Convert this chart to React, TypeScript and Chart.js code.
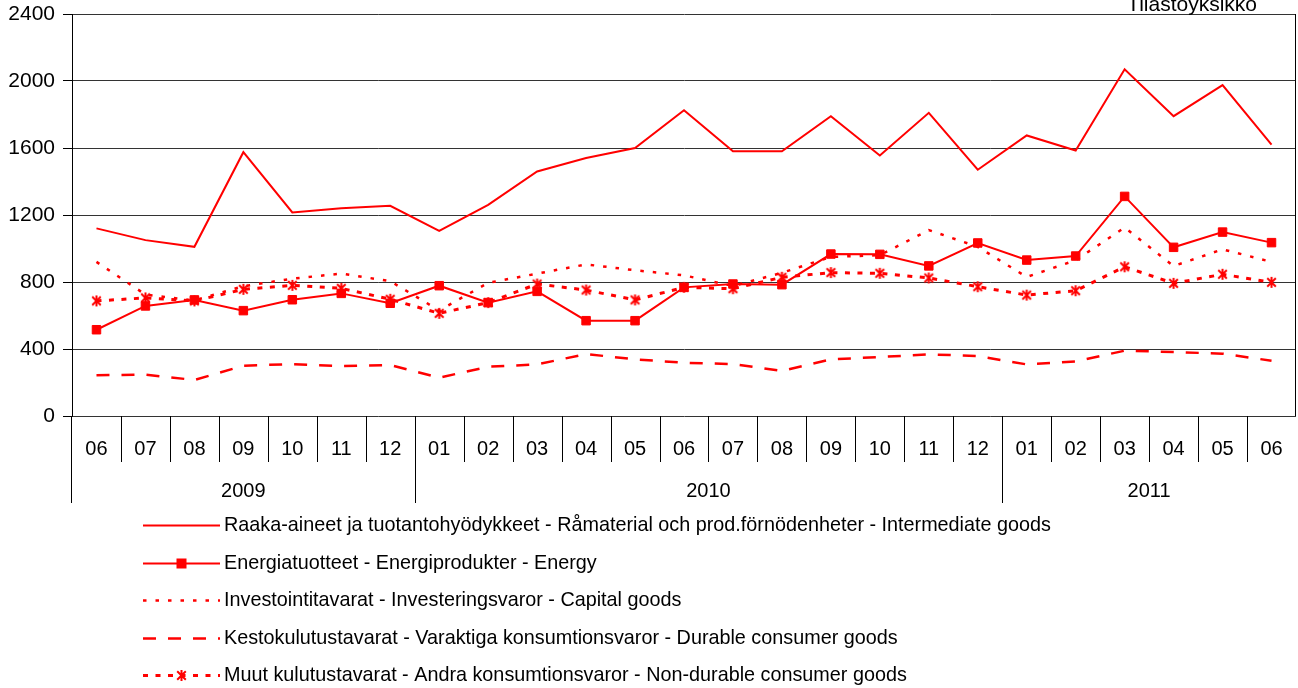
import React, { useEffect, useRef } from 'react';
import { Chart, registerables } from 'chart.js';

Chart.register(...registerables);

// ---------- data ----------
const months = [
  '06', '07', '08', '09', '10', '11', '12',
  '01', '02', '03', '04', '05', '06', '07', '08', '09', '10', '11', '12',
  '01', '02', '03', '04', '05', '06',
];
const years = ['2009', '2010', '2011'];
const yearSpans = [7, 12, 6];

const intermediate = [1120, 1050, 1010, 1575, 1215, 1240, 1255, 1105, 1260, 1460, 1540, 1600, 1825, 1580, 1580, 1790, 1555, 1810, 1470, 1675, 1585, 2070, 1790, 1975, 1620];
const energy = [515, 657, 693, 629, 694, 732, 673, 778, 677, 744, 569, 569, 768, 788, 784, 967, 965, 896, 1033, 931, 955, 1311, 1007, 1098, 1035];
const capital = [920, 725, 690, 775, 820, 850, 805, 630, 795, 850, 905, 870, 840, 776, 855, 950, 960, 1110, 1010, 830, 930, 1125, 895, 995, 920];
const durable = [243, 247, 215, 300, 310, 298, 304, 229, 294, 308, 370, 338, 318, 310, 269, 338, 352, 368, 358, 308, 326, 390, 382, 372, 330];
const nondurable = [687, 705, 687, 756, 780, 762, 697, 613, 677, 788, 752, 693, 768, 760, 828, 856, 852, 824, 772, 722, 748, 891, 792, 846, 798];

const seriesLabels = [
  'Raaka-aineet ja tuotantohyödykkeet - Råmaterial och prod.förnödenheter - Intermediate goods',
  'Energiatuotteet - Energiprodukter - Energy',
  'Investointitavarat - Investeringsvaror - Capital goods',
  'Kestokulutustavarat - Varaktiga konsumtionsvaror - Durable consumer goods',
  'Muut kulutustavarat - Andra konsumtionsvaror - Non-durable consumer goods',
];
const unitLabel = 'Tilastoyksikkö';
const yMin = 0;
const yMax = 2400;
const yStep = 400;

// ---------- styles ----------
const RED = '#ff0000';
const FONT = '"Liberation Sans", Arial, Helvetica, sans-serif';

function makeAsterisk(size: number): HTMLCanvasElement {
  const c = document.createElement('canvas');
  c.width = size;
  c.height = size;
  const ctx = c.getContext('2d')!;
  ctx.strokeStyle = RED;
  ctx.lineWidth = 2;
  const m = size / 2;
  const r = size / 2 - 1;
  const d = r * 0.78;
  ctx.beginPath();
  ctx.moveTo(m, m - r);
  ctx.lineTo(m, m + r);
  ctx.moveTo(m - d, m - d);
  ctx.lineTo(m + d, m + d);
  ctx.moveTo(m + d, m - d);
  ctx.lineTo(m - d, m + d);
  ctx.stroke();
  return c;
}

const customPlugin = {
  id: 'customDecor',
  afterDraw(chart: any) {
    const { ctx, chartArea, scales } = chart;
    const xs = scales.x;
    const n = months.length;
    const px = (i: number) => xs.getPixelForValue(i);
    const step = px(1) - px(0);
    const edge = (i: number) => Math.round(px(i) - step / 2) + 0.5;
    const bottom = chartArea.bottom;

    ctx.save();
    ctx.strokeStyle = '#000';
    ctx.lineWidth = 1;
    ctx.setLineDash([]);

    // right border of plot
    ctx.beginPath();
    ctx.moveTo(Math.round(chartArea.right) - 0.5, chartArea.top);
    ctx.lineTo(Math.round(chartArea.right) - 0.5, bottom);
    ctx.stroke();

    // month separators
    for (let i = 1; i < n; i++) {
      ctx.beginPath();
      ctx.moveTo(edge(i), bottom);
      ctx.lineTo(edge(i), bottom + 46);
      ctx.stroke();
    }
    // year separators
    let acc = 0;
    const yearEdges = [0];
    yearSpans.forEach((s) => {
      acc += s;
      yearEdges.push(acc);
    });
    for (let k = 0; k < yearEdges.length - 1; k++) {
      const e = yearEdges[k];
      const xx = k === 0 ? Math.round(chartArea.left) - 0.5 : edge(e);
      ctx.beginPath();
      ctx.moveTo(xx, bottom);
      ctx.lineTo(xx, bottom + 87);
      ctx.stroke();
    }

    // month labels
    ctx.fillStyle = '#000';
    ctx.font = `20px ${FONT}`;
    ctx.textAlign = 'center';
    ctx.textBaseline = 'middle';
    for (let i = 0; i < n; i++) {
      ctx.fillText(months[i], px(i), bottom + 33);
    }
    // year labels
    for (let k = 0; k < years.length; k++) {
      const a = yearEdges[k];
      const b = yearEdges[k + 1] - 1;
      ctx.fillText(years[k], (px(a) + px(b)) / 2, bottom + 75);
    }

    // unit label
    ctx.font = `21px ${FONT}`;
    ctx.textAlign = 'right';
    ctx.textBaseline = 'alphabetic';
    ctx.fillText(unitLabel, chartArea.right - 39, chartArea.top - 3);

    // legend
    const datasets = chart.data.datasets;
    const lx0 = 143;
    const lx1 = 220;
    const tx = 224;
    const y0 = 525;
    const dy = 37.5;
    ctx.font = `19.8px ${FONT}`;
    ctx.textAlign = 'left';
    ctx.textBaseline = 'middle';
    datasets.forEach((ds: any, i: number) => {
      const y = Math.round(y0 + i * dy) + 0.5;
      ctx.save();
      ctx.strokeStyle = ds.borderColor;
      ctx.lineWidth = ds.borderWidth;
      ctx.setLineDash(ds.borderDash || []);
      ctx.lineDashOffset = 0;
      ctx.beginPath();
      ctx.moveTo(lx0, y);
      ctx.lineTo(lx1, y);
      ctx.stroke();
      ctx.restore();
      const mx = (lx0 + lx1) / 2;
      if (ds.pointStyle === 'rect' && ds.pointRadius > 0) {
        ctx.fillStyle = RED;
        ctx.fillRect(mx - 5, y - 5, 10, 10);
      } else if (ds.pointStyle instanceof HTMLCanvasElement) {
        const img = ds.pointStyle;
        ctx.drawImage(img, mx - img.width / 2, y - img.height / 2);
      }
      ctx.fillStyle = '#000';
      ctx.fillText(seriesLabels[i], tx, y);
    });
    ctx.restore();
  },
};

export default function App() {
  const ref = useRef<HTMLCanvasElement | null>(null);

  useEffect(() => {
    document.body.style.margin = '0';
    const canvas = ref.current;
    if (!canvas) return;
    const asterisk = makeAsterisk(13);

    const chart = new Chart(canvas, {
      type: 'line',
      data: {
        labels: months,
        datasets: [
          {
            label: seriesLabels[0],
            data: intermediate,
            borderColor: RED,
            borderWidth: 2,
            pointRadius: 0,
            fill: false,
            tension: 0,
          },
          {
            label: seriesLabels[1],
            data: energy,
            borderColor: RED,
            backgroundColor: RED,
            borderWidth: 2,
            pointStyle: 'rect',
            pointRadius: 6,
            pointBorderWidth: 1,
            pointBackgroundColor: RED,
            pointBorderColor: RED,
            fill: false,
            tension: 0,
          },
          {
            label: seriesLabels[2],
            data: capital,
            borderColor: RED,
            borderWidth: 2.5,
            borderDash: [3.5, 9],
            pointRadius: 0,
            fill: false,
            tension: 0,
          },
          {
            label: seriesLabels[3],
            data: durable,
            borderColor: RED,
            borderWidth: 2.5,
            borderDash: [13, 12],
            pointRadius: 0,
            fill: false,
            tension: 0,
          },
          {
            label: seriesLabels[4],
            data: nondurable,
            borderColor: RED,
            borderWidth: 3,
            borderDash: [5, 7.5],
            pointStyle: asterisk,
            pointRadius: 6,
            fill: false,
            tension: 0,
          },
        ] as any,
      },
      options: {
        responsive: false,
        animation: false,
        events: [],
        layout: { autoPadding: false, padding: { top: 14, right: 2, bottom: 272, left: 0 } },
        plugins: {
          legend: { display: false },
          tooltip: { enabled: false },
        },
        scales: {
          x: { type: 'category', display: false, offset: true },
          y: {
            min: yMin,
            max: yMax,
            ticks: {
              stepSize: yStep,
              color: '#000',
              font: { size: 21, family: FONT },
              padding: 8,
              callback: (v: any) => String(v),
            },
            grid: { color: '#333', tickLength: 9, tickColor: '#000', lineWidth: 1 },
            border: { display: true, color: '#000', width: 1 },
            afterFit: (s: any) => {
              s.width = 72;
              s.paddingTop = 0;
              s.paddingBottom = 0;
            },
          },
        },
      } as any,
      plugins: [customPlugin],
    });
    return () => chart.destroy();
  }, []);

  return (
    <div style={{ width: 1298, height: 688, background: '#fff' }}>
      <canvas ref={ref} width={1298} height={688} style={{ display: 'block', width: 1298, height: 688 }} />
    </div>
  );
}
